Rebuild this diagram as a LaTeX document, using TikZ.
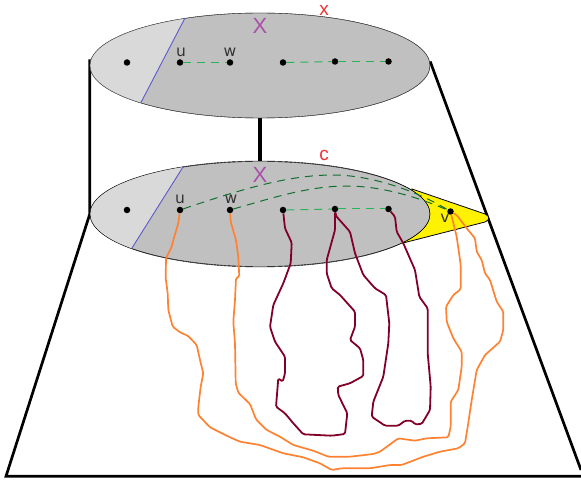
\documentclass[tikz,border=0pt]{standalone}
\usepackage{fontspec}
\setmainfont{DejaVu Sans}
\newfontfamily\bigfont{Liberation Sans}
\usetikzlibrary{positioning}
\usetikzlibrary{shapes.geometric}

\definecolor{discgray}{RGB}{192,192,192}
\definecolor{lightgray}{RGB}{217,217,217}
\definecolor{sidegreen}{RGB}{40,180,85}
\definecolor{longgreen}{RGB}{20,110,50}
\definecolor{cutblue}{RGB}{90,90,205}
\definecolor{labelmagenta}{RGB}{170,80,170}
\definecolor{labelred}{RGB}{240,50,50}
\definecolor{pathorange}{RGB}{255,130,50}
\definecolor{pathred}{RGB}{130,0,40}

\tikzset{
  disc/.style={draw=black!75, ellipse, fill=discgray, inner sep=0pt, minimum width=340pt, minimum height=105pt},
  dot/.style={circle, fill=black, inner sep=0pt, minimum size=6.5pt},
  vlabel/.style={inner sep=0pt, text=black!80, font=\fontsize{15.5}{15.5}\selectfont},
  biglabel/.style={inner sep=0pt, text=labelmagenta, font=\bigfont\fontsize{22}{22}\selectfont},
  redlabel/.style={inner sep=0pt, text=labelred, font=\bigfont\fontsize{19}{19}\selectfont},
  frame/.style={line width=2.7pt, line join=miter},
  shortedge/.style={sidegreen, dash pattern=on 8pt off 6pt, line width=1pt},
  longedge/.style={longgreen, dash pattern=on 8pt off 6pt, line width=1pt},
  orangepath/.style={pathorange, line width=1.7pt, line join=round, rounded corners=1.5pt},
  redpath/.style={pathred, line width=1.8pt, line join=round, rounded corners=1.5pt}
}

\begin{document}
\begin{tikzpicture}[x=1pt, y=-1pt]
\useasboundingbox (0, 0) rectangle (581, 481);

\coordinate (bl) at (6, 476.3);
\coordinate (br) at (581, 476.3);
\coordinate (tr) at (581, 470);

% yellow tip behind lower disc
\node[disc, draw=none, fill=none] (topdisc) at (260, 65.5) {};
\node[disc, draw=none, fill=none] (botdisc) at (260, 214) {};
\draw[frame] ([yshift=6pt]topdisc.west) -- (botdisc.west) -- (bl) -- (br);
\draw[frame] ([yshift=4pt]topdisc.east) -- (tr);
\draw[line width=4.5pt] (topdisc.south) -- (botdisc.north);
\filldraw[fill=yellow, draw=black, line width=0.8pt] (412, 189) -- (485, 214) .. controls (490, 216) and (490, 220) .. (485, 222) -- (403, 243) -- cycle;

% upper disc
\node[disc] at (260, 65.5) {};
\begin{scope}
\clip (260, 65.5) ellipse [x radius=170, y radius=52.5];
\fill[lightgray] (80, 0) -- (185, 0) -- (185, 18) -- (140.7, 103) -- (140.7, 130) -- (80, 130) -- cycle;
\end{scope}
\draw[black!75] (260, 65.5) ellipse [x radius=170, y radius=52.5];
\draw[cutblue, line width=0.9pt] (185, 18) -- (140.7, 103);

% lower disc
\node[disc, draw=black] at (260, 214) {};
\begin{scope}
\clip (260, 214) ellipse [x radius=170, y radius=53];
\fill[lightgray] (80, 150) -- (183, 150) -- (183, 167) -- (132, 248) -- (132, 280) -- (80, 280) -- cycle;
\end{scope}
\draw[black] (260, 214) ellipse [x radius=170, y radius=53];
\draw[cutblue, line width=0.9pt] (183, 167) -- (132, 248);

% upper vertices
\def\x{127}
\def\y{62.5}
\node[dot] (a1) at (\x + 0, \y + 0) {};
\node[dot] (u1) at (\x + 53, \y + 0) {};
\node[dot] (w1) at (\x + 103, \y + 0) {};
\node[dot] (b1) at (\x + 156, \y + 0) {};
\node[dot] (c1) at (\x + 208, \y - 1) {};
\node[dot] (d1) at (\x + 261.5, \y - 1) {};

% lower vertices
\def\y{210}
\node[dot] (a2) at (\x + 0, \y + 0) {};
\node[dot] (u2) at (\x + 53, \y + 0) {};
\node[dot] (w2) at (\x + 103, \y + 0) {};
\node[dot] (b2) at (\x + 156, \y + 0) {};
\node[dot] (c2) at (\x + 208, \y - 1) {};
\node[dot] (d2) at (\x + 261.5, \y - 1) {};
\node[dot] (v) at (\x + 323.5, \y + 1.5) {};

\node[vlabel] (ulabel1) at (181, 52) {u};
\node[vlabel] (wlabel1) at (230, 52) {w};
\node[vlabel] (ulabel2) at (180, 199) {u};
\node[vlabel] (wlabel2) at (231, 199) {w};
\node[vlabel] (vlabel) at (445, 218) {v};
\node[biglabel] (xbig1) at (260, 26) {X};
\node[biglabel] (xbig2) at (260, 175) {X};
\node[redlabel] (xred) at (324, 10) {x};
\node[redlabel] (cred) at (324, 155) {c};

\draw[shortedge] (u1) -- (w1);
\draw[shortedge] (b1) -- (c1);
\draw[shortedge] (c1) -- (d1);
\draw[shortedge] (b2) -- (c2);
\draw[shortedge] (c2) -- (d2);
\draw[longedge] (u2) .. controls (245, 188) and (290, 175) .. (333, 175) .. controls (370, 175) and (415, 190) .. (v);
\draw[longedge] (w2) .. controls (275, 197) and (310, 186) .. (347, 186) .. controls (385, 186) and (425, 200) .. (v);

\draw[redpath] (b2) -- (285, 228.3) -- (291.7, 242.7) -- (290.7, 263.3) -- (283.3, 283.3) -- (273.3, 305) -- (270, 326.7) -- (275, 341.7) -- (285, 356.7) -- (285, 373.3) -- (282.7, 381.7) -- (278.3, 378.3) -- (276, 406.7) -- (285, 413.3) -- (293.3, 423.3) -- (303.3, 434.3) -- (331.7, 435.7) -- (345, 434) -- (347.3, 413.3) -- (338.3, 395) -- (337.7, 386.7) -- (350, 383.3) -- (363.3, 376) -- (363.3, 360) -- (360, 348.3) -- (350, 340) -- (355, 326.7) -- (355, 311.7) -- (340, 295) -- (331.7, 288.3) -- (326.7, 273.3) -- (326.7, 260) -- (335, 230) -- (c2);
\draw[redpath] (c2) -- (336, 216) -- (350, 231.7) -- (355, 253.3) -- (363.3, 275) -- (375, 288.3) -- (386, 295) -- (389.3, 323.3) -- (388.3, 343.3) -- (383.3, 376.7) -- (373.3, 401.7) -- (371.7, 416.7) -- (385, 425.7) -- (398.3, 425.7) -- (405, 420.7) -- (411.7, 420.7) -- (415, 424.3) -- (421.7, 424) -- (430, 410) -- (430.7, 386.7) -- (427.7, 353.3) -- (427.7, 308.3) -- (419.3, 296.7) -- (415, 270) -- (403.3, 243.3) -- (396.7, 231.7) -- (395, 216.7) -- (d2);

\draw[orangepath] (u2) -- (178.3, 223.3) -- (173.3, 240) -- (171.7, 246.7) -- (166, 258.3) -- (165.7, 278.3) -- (167.7, 293.3) -- (168.3, 310) -- (172.7, 326.7) -- (180, 332.3) -- (188.3, 336) -- (196.7, 345) -- (200, 360) -- (203.3, 373.3) -- (200.7, 386.7) -- (198.3, 406.7) -- (198.3, 415) -- (210, 427.3) -- (230, 437.3) -- (240, 441.7) -- (260, 445) -- (283.3, 453.3) -- (303.3, 457.3) -- (320, 463.3) -- (331.7, 470) -- (341.7, 468.3) -- (370, 468.3) -- (390, 465) -- (401.7, 465) -- (423.3, 456.7) -- (440, 451.7) -- (458.3, 448.3) -- (465, 443.3) -- (467.7, 426.7) -- (471.7, 400) -- (476.7, 370) -- (485, 355) -- (500, 341.7) -- (503.3, 330) -- (503.3, 311.7) -- (496.7, 301.7) -- (490, 280) -- (485, 273.3) -- (481.7, 260) -- (476.7, 251.7) -- (475, 238.3) -- (466.7, 228.3) -- (456.7, 215) -- (v);
\draw[orangepath] (w2) -- (230.7, 221.7) -- (236, 240) -- (238.3, 256.7) -- (239.3, 276.7) -- (236, 278) -- (235, 300) -- (233.3, 321.7) -- (235, 343.3) -- (235.7, 383.3) -- (238.3, 392.7) -- (250, 404) -- (256, 419.3) -- (266.7, 430) -- (280, 436.7) -- (293.3, 445) -- (313.3, 450.7) -- (328.3, 456.7) -- (350, 456.7) -- (373.3, 454) -- (380, 451.7) -- (398.3, 438.3) -- (415, 440.7) -- (426.7, 438.3) -- (448.3, 437.3) -- (450.7, 426.7) -- (450.7, 401.7) -- (458.3, 390) -- (461.7, 366.7) -- (461.7, 351.7) -- (453.3, 338.3) -- (446.7, 321.7) -- (446, 306.7) -- (453.3, 295) -- (460.7, 289.3) -- (460.7, 265) -- (456.7, 236.7) -- (v);

\end{tikzpicture}
\end{document}
